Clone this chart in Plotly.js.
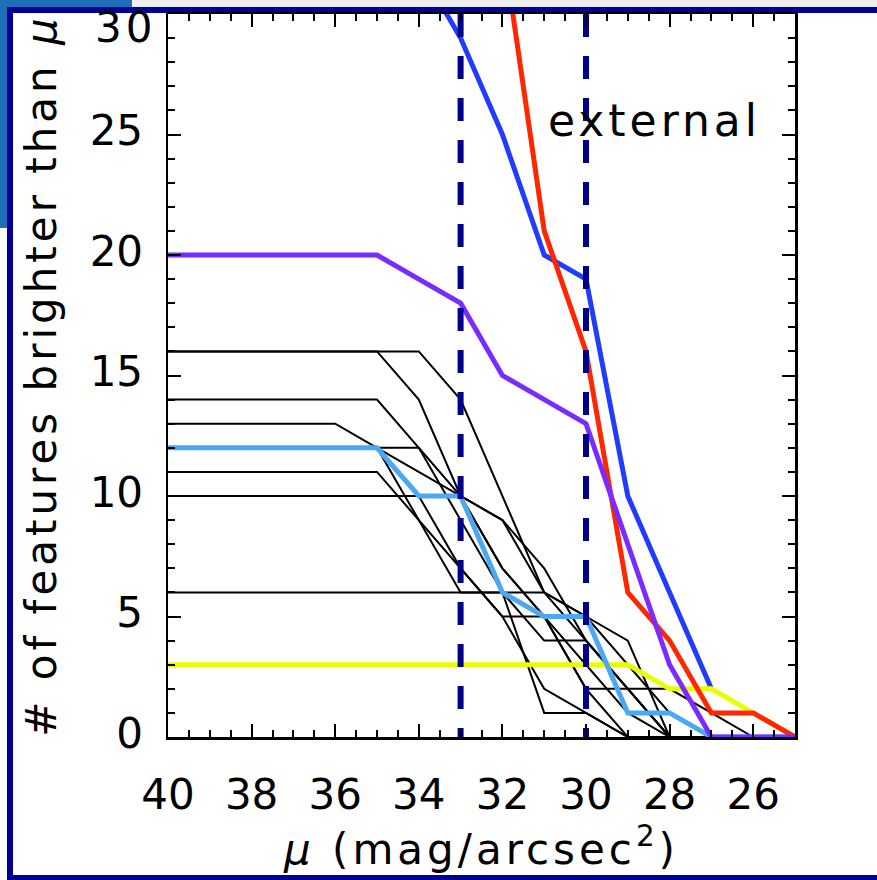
<!DOCTYPE html>
<html>
<head>
<meta charset="utf-8">
<script src="https://cdn.plot.ly/plotly-3.0.1.min.js"></script>
<style>
  html, body { margin:0; padding:0; background:#ffffff; width:877px; height:880px; overflow:hidden; }
  .frame { position:absolute; }
  #chart { position:absolute; left:0; top:0; width:877px; height:880px; }
  #chart .xtitle, #chart .ytitle, #chart .annotation-text { letter-spacing: 4px; }
</style>
</head>
<body>
<div class="frame" style="left:0;top:0;width:132px;height:8px;background:#1f6fb8;"></div>
<div class="frame" style="left:0;top:0;width:7px;height:228px;background:#1f6fb8;"></div>
<div class="frame" style="left:132px;top:0;width:745px;height:7px;background:#eeeeee;"></div>
<div class="frame" style="left:7px;top:7px;width:870px;height:6px;background:#000096;"></div>
<div class="frame" style="left:7px;top:7px;width:6px;height:873px;background:#000096;"></div>
<div class="frame" style="left:7px;top:875px;width:870px;height:5px;background:#000096;"></div>
<div id="chart"></div>
<script>
// surface brightness grid (mag/arcsec^2), left to right
const mu = [40, 39, 38, 37, 36, 35, 34, 33, 32, 31, 30, 29, 28, 27, 26, 25];

// individual (black) curves: number of features brighter than mu
const blackA = [16, 16, 16, 16, 16, 16, 16, 14, 10, 6, 4, 2, 0, 0, 0, 0];
const blackB = [16, 16, 16, 16, 16, 16, 14, 10, 7, 5, 3, 1, 0, 0, 0, 0];
const blackC = [14, 14, 14, 14, 14, 14, 12, 9, 6, 4, 4, 2, 0, 0, 0, 0];
const blackD = [13, 13, 13, 13, 13, 12, 11, 10, 9, 7, 4, 2, 0, 0, 0, 0];
const blackE = [12, 12, 12, 12, 12, 12, 12, 10, 7, 5, 2, 2, 2, 1, 0, 0];
const blackF = [11, 11, 11, 11, 11, 11, 9, 6, 6, 1, 1, 0, 0, 0, 0, 0];
const blackG = [10, 10, 10, 10, 10, 10, 10, 10, 9, 6, 5, 3, 1, 0, 0, 0];
const blackH = [6, 6, 6, 6, 6, 6, 6, 6, 6, 6, 5, 4, 0, 0, 0, 0];
const blackI = [12, 12, 12, 12, 12, 12, 9, 7, 5, 5, 2, 0, 0, 0, 0, 0];
const blackJ = [12, 12, 12, 12, 12, 12, 10, 7, 5, 2, 1, 0, 0, 0, 0, 0];
const blackCurves = [blackA, blackB, blackC, blackD, blackE, blackF, blackG, blackH, blackI, blackJ];

// highlighted curves
const yellowCurve = [3, 3, 3, 3, 3, 3, 3, 3, 3, 3, 3, 3, 2, 2, 1, 0];
const lightBlueCurve = [12, 12, 12, 12, 12, 12, 10, 10, 6, 5, 5, 1, 1, 0, 0, 0];
const redCurve = [null, null, null, null, null, null, null, null, 33, 21, 16, 6, 4, 1, 1, 0];
const blueCurve = [null, null, null, null, null, null, 32, 29, 25, 20, 19, 10, 6, 2, null, null];
const purpleCurve = [20, 20, 20, 20, 20, 20, 19, 18, 15, 14, 13, 8, 3, 0, 0, 0];

// dashed reference limits
const limitsMu = [33, 30];
const limitSpan = [30, 0];

// axis ticks
const xTicks = [40, 38, 36, 34, 32, 30, 28, 26];
const yTicks = [0, 5, 10, 15, 20, 25];
const yTopTick = 30;

const FONT = '"DejaVu Sans", sans-serif';
const traces = [];
blackCurves.forEach(function (c) {
  traces.push({x: mu, y: c, mode: 'lines', line: {color: '#000000', width: 2}, hoverinfo: 'skip'});
});
traces.push({x: mu, y: blueCurve, mode: 'lines', line: {color: '#1f3cff', width: 5}});
traces.push({x: mu, y: yellowCurve, mode: 'lines', line: {color: '#e8ff00', width: 5}});
traces.push({x: mu, y: lightBlueCurve, mode: 'lines', line: {color: '#4aa8f4', width: 5}});
traces.push({x: mu, y: redCurve, mode: 'lines', line: {color: '#ff2600', width: 5}});
traces.push({x: mu, y: purpleCurve, mode: 'lines', line: {color: '#7a2cff', width: 5}});
limitsMu.forEach(function (m) {
  traces.push({x: [m, m], y: limitSpan, mode: 'lines', line: {color: '#000088', width: 6, dash: '23px,19px'}});
});

const layout = {
  width: 877, height: 880,
  margin: {l: 168, r: 82, t: 14, b: 143},
  paper_bgcolor: 'rgba(0,0,0,0)',
  plot_bgcolor: '#ffffff',
  showlegend: false,
  font: {family: FONT, color: '#000000', size: 42},
  xaxis: {
    range: [40, 25], autorange: false,
    tickmode: 'array', tickvals: xTicks, ticktext: xTicks.map(String),
    ticks: 'inside', ticklen: 13, tickwidth: 2, tickcolor: '#000',
    showline: true, linecolor: '#000', linewidth: 2.5, mirror: 'ticks',
    showgrid: false, zeroline: false,
    minor: {dtick: 0.5, tick0: 40, ticks: 'inside', ticklen: 7, tickwidth: 2, tickcolor: '#000', showgrid: false},
    tickfont: {family: FONT, size: 42, color: '#000'},
    ticklabelstandoff: 19,
    automargin: false,
    title: {text: '<i>μ</i> (mag/arcsec<sup>2</sup>)', font: {family: FONT, size: 42, color: '#000'}, standoff: 4}
  },
  yaxis: {
    range: [0, 30], autorange: false,
    tickmode: 'array', tickvals: yTicks, ticktext: yTicks.map(String),
    ticks: 'inside', ticklen: 13, tickwidth: 2, tickcolor: '#000',
    showline: true, linecolor: '#000', linewidth: 2.5, mirror: 'ticks',
    showgrid: false, zeroline: false,
    minor: {dtick: 1, tick0: 0, ticks: 'inside', ticklen: 7, tickwidth: 2, tickcolor: '#000', showgrid: false},
    tickfont: {family: FONT, size: 42, color: '#000'},
    ticklabelstandoff: 14,
    ticklabelshift: -4,
    automargin: false,
    title: {text: '# of features brighter than <i>μ</i>', font: {family: FONT, size: 42, color: '#000'}, standoff: 20}
  },
  annotations: [
    {
      x: 28.37, y: 25.6, xref: 'x', yref: 'y', text: 'external', showarrow: false,
      xanchor: 'center', yanchor: 'middle', font: {family: FONT, size: 44, color: '#000'}
    },
    {
      x: 0, xref: 'paper', xanchor: 'right', xshift: -14,
      y: yTopTick, yref: 'y', yanchor: 'middle', yshift: -13,
      text: String(yTopTick), showarrow: false,
      font: {family: FONT, size: 42, color: '#000'}
    }
  ]
};

Plotly.newPlot('chart', traces, layout, {staticPlot: true, displayModeBar: false});
</script>
</body>
</html>
